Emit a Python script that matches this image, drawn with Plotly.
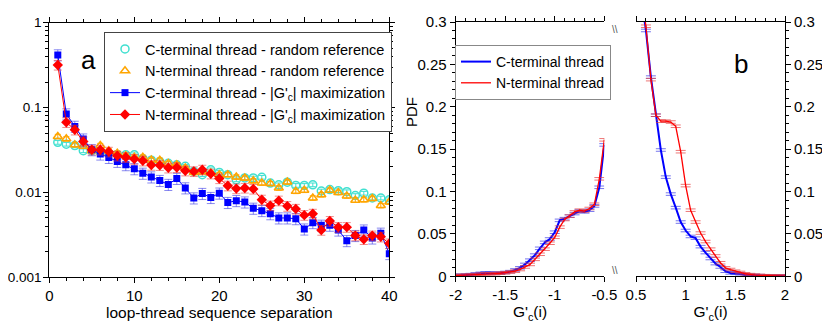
import plotly.graph_objects as go

# panel a: loop-thread sequence separation
sep = list(range(1, 41))
c_random = [0.0389, 0.037, 0.0357, 0.031, 0.031, 0.030, 0.029, 0.028, 0.0278, 0.0278,
            0.025, 0.024, 0.023, 0.022, 0.0212, 0.0203, 0.0177, 0.0162, 0.0185, 0.0172,
            0.0162, 0.0141, 0.0148, 0.0148, 0.0151, 0.0129, 0.0123, 0.0132, 0.0121, 0.0121,
            0.0123, 0.0104, 0.0108, 0.0105, 0.0102, 0.0092, 0.0098, 0.0086, 0.0086, 0.0082]
n_random = [0.0456, 0.0428, 0.0365, 0.035, 0.031, 0.0357, 0.031, 0.029, 0.027, 0.026,
            0.026, 0.0242, 0.024, 0.022, 0.0212, 0.0194, 0.0172, 0.0175, 0.017, 0.0162,
            0.0162, 0.0152, 0.0148, 0.0137, 0.0129, 0.0127, 0.0113, 0.0133, 0.0103, 0.0106,
            0.0086, 0.0094, 0.0106, 0.0100, 0.0091, 0.0081, 0.0082, 0.0085, 0.0070, 0.0077]
c_max = [0.417, 0.084, 0.060, 0.0425, 0.0318, 0.0283, 0.0258, 0.0232, 0.0212, 0.0190,
         0.0168, 0.0152, 0.0138, 0.0124, 0.0146, 0.0113, 0.0086, 0.0097, 0.0087, 0.0098,
         0.0076, 0.0080, 0.0077, 0.0065, 0.0061, 0.0056, 0.0050, 0.0050, 0.0049, 0.0037,
         0.0044, 0.0041, 0.0041, 0.0036, 0.0027, 0.0031, 0.0036, 0.0029, 0.0033, 0.0019]
n_max = [0.318, 0.067, 0.0547, 0.0398, 0.0318, 0.0318, 0.0301, 0.027, 0.026, 0.0247,
         0.0236, 0.021, 0.0209, 0.0195, 0.0197, 0.018, 0.0177, 0.0185, 0.0166, 0.0146,
         0.012, 0.0111, 0.0113, 0.0110, 0.0082, 0.0070, 0.0080, 0.0069, 0.0064, 0.0054,
         0.0056, 0.0036, 0.0046, 0.0039, 0.0039, 0.0031, 0.0028, 0.0031, 0.0030, 0.0025]

# panel b: PDF of G'c(i), negative and positive branch
g_neg = [-2.0, -1.95, -1.9, -1.85, -1.8, -1.75, -1.7, -1.65, -1.6, -1.55, -1.5,
         -1.45, -1.4, -1.35, -1.3, -1.25, -1.2, -1.15, -1.1, -1.05, -1.0,
         -0.95, -0.9, -0.85, -0.8, -0.75, -0.7, -0.65, -0.6, -0.55, -0.5]
pdf_c_neg = [0.001, 0.0012, 0.0015, 0.002, 0.0028, 0.0035, 0.004, 0.004, 0.0035, 0.0038, 0.0045,
             0.0055, 0.0075, 0.010, 0.014, 0.019, 0.025, 0.033, 0.040, 0.044, 0.052,
             0.066, 0.068, 0.071, 0.074, 0.077, 0.076, 0.078, 0.083, 0.105, 0.155]
pdf_n_neg = [0.0008, 0.001, 0.0012, 0.0015, 0.002, 0.0025, 0.0028, 0.003, 0.0032, 0.0036, 0.0042,
             0.005, 0.006, 0.008, 0.011, 0.014, 0.020, 0.026, 0.032, 0.039, 0.046,
             0.058, 0.067, 0.071, 0.076, 0.078, 0.077, 0.080, 0.085, 0.115, 0.161]
g_pos = [0.55, 0.6, 0.65, 0.7, 0.75, 0.8, 0.85, 0.9, 0.95, 1.0,
         1.05, 1.1, 1.15, 1.2, 1.25, 1.3, 1.35, 1.4, 1.45, 1.5,
         1.55, 1.6, 1.65, 1.7, 1.75, 1.8, 1.85, 1.9, 1.95, 2.0]
pdf_c_pos = [0.33, 0.29, 0.235, 0.19, 0.149, 0.117, 0.097, 0.081, 0.064, 0.054,
             0.047, 0.045, 0.035, 0.028, 0.021, 0.015, 0.011, 0.006, 0.004, 0.0035,
             0.003, 0.0015, 0.0012, 0.001, 0.0008, 0.0006, 0.0005, 0.0004, 0.0003, 0.0002]
pdf_n_pos = [0.34, 0.295, 0.232, 0.19, 0.183, 0.183, 0.182, 0.177, 0.147, 0.107,
             0.078, 0.064, 0.051, 0.041, 0.032, 0.024, 0.016, 0.010, 0.008, 0.006,
             0.0045, 0.003, 0.002, 0.0013, 0.001, 0.0007, 0.0005, 0.0004, 0.0003, 0.0002]

FONT = "Liberation Sans, Arial, sans-serif"
BLUE = "#0000ff"
RED = "#ff0000"
CYAN = "#40e0d0"
ORANGE = "#ffa500"

W, H, OFF = 830, 322, 8  # page body adds an 8px margin


def px(p):
    return (p - OFF) / W


def py(p):
    return 1 - (p - OFF) / H


fig = go.Figure()

# ---- panel a
fig.add_trace(go.Scatter(x=sep, y=c_random, mode="markers", name="C-terminal thread - random reference",
                         marker=dict(symbol="circle-open", size=8, color=CYAN, line=dict(width=1.5)),
                         error_y=dict(type="percent", value=5, color=CYAN, thickness=1, width=3),
                         xaxis="x", yaxis="y"))
fig.add_trace(go.Scatter(x=sep, y=n_random, mode="markers", name="N-terminal thread - random reference",
                         marker=dict(symbol="triangle-up-open", size=8, color=ORANGE, line=dict(width=1.5)),
                         error_y=dict(type="percent", value=6, color=ORANGE, thickness=1, width=3),
                         xaxis="x", yaxis="y"))
fig.add_trace(go.Scatter(x=sep, y=c_max, mode="lines+markers", name="C-terminal thread - |G'<sub>c</sub>| maximization",
                         marker=dict(symbol="square", size=7, color=BLUE),
                         line=dict(color=BLUE, width=1),
                         error_y=dict(type="percent", value=15, color="rgba(60,60,230,0.6)", thickness=1, width=4),
                         xaxis="x", yaxis="y"))
fig.add_trace(go.Scatter(x=sep, y=n_max, mode="lines+markers", name="N-terminal thread - |G'<sub>c</sub>| maximization",
                         marker=dict(symbol="diamond", size=8, color=RED),
                         line=dict(color=RED, width=1),
                         error_y=dict(type="percent", value=13, color="rgba(230,60,60,0.6)", thickness=1, width=4),
                         xaxis="x", yaxis="y"))

# ---- panel b
for xs, ys, col, ecol, nm, show, xa, ya in [
    (g_neg, pdf_c_neg, BLUE, "rgba(60,60,230,0.7)", "C-terminal thread", True, "x2", "y2"),
    (g_neg, pdf_n_neg, RED, "rgba(230,60,60,0.7)", "N-terminal thread", True, "x2", "y2"),
    (g_pos, pdf_c_pos, BLUE, "rgba(60,60,230,0.7)", "C-terminal thread", False, "x3", "y3"),
    (g_pos, pdf_n_pos, RED, "rgba(230,60,60,0.7)", "N-terminal thread", False, "x3", "y3"),
]:
    fig.add_trace(go.Scatter(x=xs, y=ys, mode="lines", name=nm, showlegend=show, legend="legend2",
                             line=dict(color=col, width=2 if col == BLUE else 1.3),
                             error_y=dict(type="constant", value=0.0015, color=ecol, thickness=1, width=5),
                             xaxis=xa, yaxis=ya))

axis_common = dict(showline=True, linecolor="black", linewidth=1, ticks="outside",
                   tickcolor="black", ticklen=5, showgrid=False, zeroline=False, automargin=False,
                   tickfont=dict(family=FONT, size=15, color="black"))
minor_common = dict(ticks="outside", ticklen=3, tickcolor="black", showgrid=False)
title_font = dict(family=FONT, size=15.5, color="black")

ya_dom = [py(277.3), py(22.7)]
yb_dom = [py(276.3), py(22)]

fig.update_layout(
    width=W, height=H, margin=dict(l=0, r=0, t=0, b=0),
    plot_bgcolor="white", paper_bgcolor="white",
    font=dict(family=FONT, size=14, color="black"),
    xaxis=dict(axis_common, domain=[px(49.3), px(389.3)], range=[0, 40], dtick=10, mirror="ticks",
               minor=dict(minor_common, dtick=2),
               title=dict(text="loop-thread sequence separation", standoff=0, font=title_font),
               anchor="y"),
    yaxis=dict(axis_common, domain=ya_dom, type="log", range=[-3, 0], mirror="ticks",
               tickvals=[0.001, 0.01, 0.1, 1], ticktext=["0.001", "0.01", "0.1", "1"],
               tickfont=dict(family=FONT, size=13.5, color="black"), ticklabelstandoff=-1,
               minor=dict(minor_common, dtick="D1"),
               anchor="x"),
    xaxis2=dict(axis_common, domain=[px(455.7), px(604.3)], range=[-2, -0.5], mirror="ticks",
                tickvals=[-2, -1.5, -1, -0.5], ticktext=["-2", "-1.5", "-1", "-0.5"],
                minor=dict(minor_common, dtick=0.1),
                title=dict(text="G'<sub>c</sub>(i)", standoff=0, font=title_font),
                anchor="y2"),
    yaxis2=dict(axis_common, domain=yb_dom, range=[0, 0.3], dtick=0.05, mirror=False,
                minor=dict(minor_common, dtick=0.01),
                anchor="x2"),
    xaxis3=dict(axis_common, domain=[px(636), px(785)], range=[0.5, 2], mirror="ticks",
                tickvals=[0.5, 1, 1.5, 2], ticktext=["0.5", "1", "1.5", "2"],
                minor=dict(minor_common, dtick=0.1),
                title=dict(text="G'<sub>c</sub>(i)", standoff=0, font=title_font),
                anchor="y3"),
    yaxis3=dict(axis_common, domain=yb_dom, range=[0, 0.3], dtick=0.05, side="right", mirror=False,
                minor=dict(minor_common, dtick=0.01),
                anchor="x3"),
    legend=dict(x=px(104), y=py(32), xanchor="left", yanchor="top", bgcolor="white",
                bordercolor="#444", borderwidth=1, tracegroupgap=0, itemwidth=30,
                font=dict(family=FONT, size=14.5, color="black")),
    legend2=dict(x=px(455), y=py(45), xanchor="left", yanchor="top", bgcolor="white",
                 bordercolor="#888", borderwidth=1, tracegroupgap=0, itemwidth=30,
                 font=dict(family=FONT, size=14, color="black")),
    annotations=[
        dict(text="a", x=px(79), y=py(43), xref="paper", yref="paper", showarrow=False,
             font=dict(family=FONT, size=26, color="black")),
        dict(text="b", x=px(750), y=py(47), xref="paper", yref="paper", showarrow=False,
             font=dict(family=FONT, size=26, color="black")),
        dict(text="PDF", x=px(411), y=py(95), xref="paper", yref="paper", showarrow=False,
             textangle=-90, font=dict(family=FONT, size=15, color="black")),
        dict(text="\\\\", x=px(620), y=py(22), xref="paper", yref="paper", showarrow=False,
             font=dict(family=FONT, size=10, color="#555")),
        dict(text="\\\\", x=px(620), y=py(278), xref="paper", yref="paper", showarrow=False,
             font=dict(family=FONT, size=10, color="#555")),
    ],
)

fig.write_html("out.html")
